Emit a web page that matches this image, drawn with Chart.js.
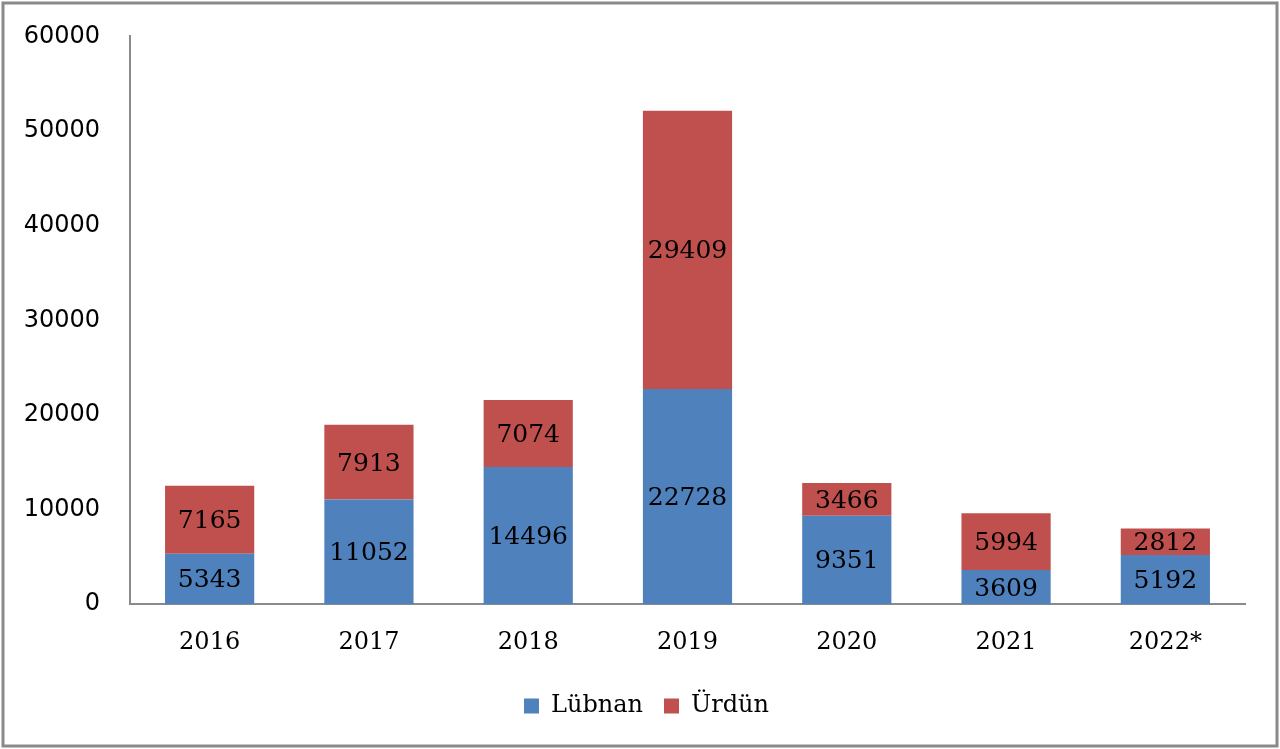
<!DOCTYPE html>
<html>
<head>
<meta charset="utf-8">
<script src="https://cdn.jsdelivr.net/npm/chart.js@4"></script>
<style>
  html, body { margin: 0; padding: 0; background: #fff; }
  #wrap { width: 1280px; height: 749px; }
</style>
</head>
<body>
<div id="wrap"><canvas id="chart" width="1280" height="749"></canvas></div>
<script>
// Years on the x axis
const years = ['2016', '2017', '2018', '2019', '2020', '2021', '2022*'];
// Series values
const lubnan = [5343, 11052, 14496, 22728, 9351, 3609, 5192];
const urdun = [7165, 7913, 7074, 29409, 3466, 5994, 2812];
// Y axis ticks
const yMin = 0;
const yMax = 60000;
const yStep = 10000;

const serif = '"DejaVu Serif", "Liberation Serif", serif';
const sans = '"DejaVu Sans", "Liberation Sans", sans-serif';

// Draw the value in the middle of each segment
const segmentLabels = {
	id: 'segmentLabels',
	afterDatasetsDraw(chart) {
		const ctx = chart.ctx;
		ctx.save();
		ctx.font = '25px ' + serif;
		ctx.fillStyle = '#000';
		ctx.textAlign = 'center';
		ctx.textBaseline = 'middle';
		chart.data.datasets.forEach((ds, di) => {
			const meta = chart.getDatasetMeta(di);
			meta.data.forEach((bar, i) => {
				const mid = (bar.y + bar.base) / 2;
				ctx.fillText(String(ds.data[i]), bar.x, mid + 2);
			});
		});
		ctx.restore();
	}
};

// Grey frame round the whole picture, legend nudged to the page centre
const frame = {
	id: 'frame',
	afterLayout(chart) {
		if (chart.legend) {
			chart.legend.left += 24;
			chart.legend.right += 24;
		}
	},
	beforeDraw(chart) {
		const ctx = chart.ctx;
		ctx.save();
		ctx.fillStyle = '#fff';
		ctx.fillRect(0, 0, chart.width, chart.height);
		ctx.strokeStyle = '#8a8a8a';
		ctx.lineWidth = 3;
		ctx.strokeRect(3, 3, chart.width - 6, chart.height - 6);
		ctx.restore();
	}
};

new Chart(document.getElementById('chart').getContext('2d'), {
	type: 'bar',
	data: {
		labels: years,
		datasets: [
			{ label: 'Lübnan', data: lubnan, backgroundColor: '#4F81BD' },
			{ label: 'Ürdün', data: urdun, backgroundColor: '#C0504D' }
		]
	},
	options: {
		responsive: false,
		animation: false,
		devicePixelRatio: 1,
		layout: { padding: { top: 28, right: 35, left: 0, bottom: 21 } },
		datasets: { bar: { categoryPercentage: 1, barPercentage: 0.56 } },
		plugins: {
			legend: {
				position: 'bottom',
				labels: {
					font: { family: serif, size: 24 },
					color: '#000',
					boxWidth: 15,
					boxHeight: 15,
					padding: 21
				}
			},
			tooltip: { enabled: false }
		},
		scales: {
			x: {
				stacked: true,
				grid: { display: false },
				border: { display: true, color: '#8a8a8a', width: 2 },
				ticks: { font: { family: serif, size: 24 }, color: '#000', padding: 16 }
			},
			y: {
				stacked: true,
				min: yMin,
				max: yMax,
				grid: { display: false },
				border: { display: true, color: '#8a8a8a', width: 2 },
				ticks: {
					stepSize: yStep,
					font: { family: sans, size: 24 },
					color: '#000',
					padding: 22,
					callback: v => String(v)
				},
				afterFit(scale) { scale.width = 130; }
			}
		}
	},
	plugins: [frame, segmentLabels]
});
</script>
</body>
</html>
